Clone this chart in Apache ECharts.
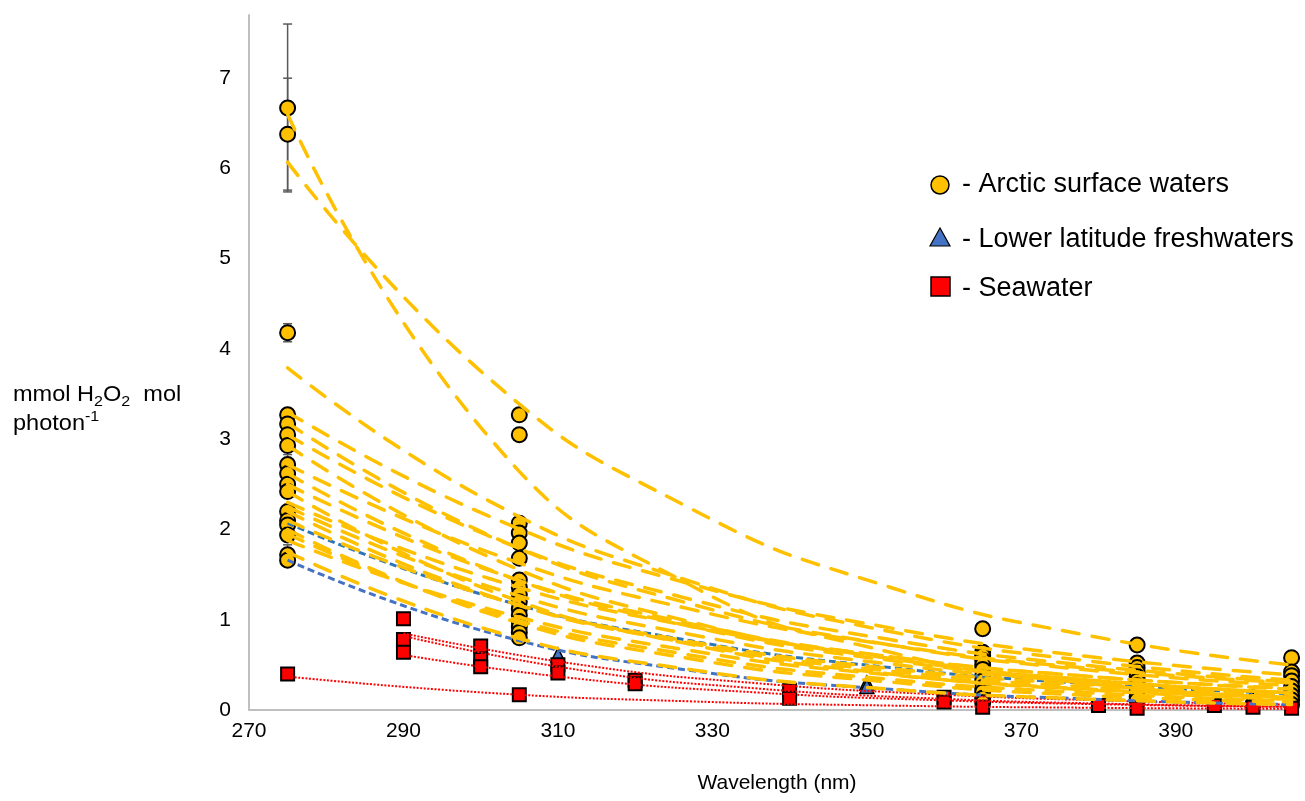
<!DOCTYPE html>
<html>
<head>
<meta charset="utf-8">
<script src="https://cdn.jsdelivr.net/npm/echarts@6/dist/echarts.min.js"></script>
<style>html,body{margin:0;padding:0;background:#fff}#c{width:1305px;height:801px}</style>
</head>
<body>
<div id="c"></div>
<script>
// ---- data ----
const xTicks = [270, 290, 310, 330, 350, 370, 390];
const yTicks = [0, 1, 2, 3, 4, 5, 6, 7];

// Arctic surface waters: measured points at each wavelength
const arctic275 = [6.67, 6.38, 4.18, 3.27, 3.17, 3.05, 2.93, 2.72, 2.62, 2.50, 2.42, 2.20, 2.10, 2.05, 1.94, 1.72, 1.66];
const arctic305 = [3.27, 3.05, 2.07, 1.96, 1.85, 1.68, 1.44, 1.36, 1.28, 1.20, 1.12, 1.05, 0.98, 0.92, 0.86, 0.80];
const arctic365 = [0.90, 0.64, 0.60, 0.55, 0.50, 0.45, 0.38, 0.32, 0.25, 0.20, 0.13, 0.08];
const arctic385 = [0.72, 0.52, 0.47, 0.42, 0.37, 0.32, 0.27, 0.21, 0.15, 0.11];
const arctic405 = [0.58, 0.42, 0.38, 0.32, 0.26, 0.21, 0.16, 0.11, 0.06];

// error bars (wavelength, low, high)
const errWl   = [275, 275, 275, 275, 275];
const errLow  = [5.74, 5.76, 4.08, 2.62, 1.62];
const errHigh = [7.60, 7.00, 4.28, 2.83, 1.83];

// dashed fitted curves: values at evenly spaced wavelengths
const fitWl = [275, 301, 327, 353, 379, 405];
const arcticFits = [
  [6.07, 3.68, 2.24, 1.36, 0.82, 0.50],
  [6.60, 3.03, 1.39, 0.64, 0.29, 0.14],
  [3.79, 2.32, 1.43, 0.87, 0.54, 0.33],
  [3.30, 2.15, 1.40, 0.91, 0.59, 0.39],
  [3.18, 1.94, 1.18, 0.72, 0.44, 0.27],
  [3.05, 1.93, 1.23, 0.78, 0.49, 0.31],
  [2.93, 1.70, 0.98, 0.57, 0.33, 0.19],
  [2.72, 1.75, 1.12, 0.72, 0.46, 0.30],
  [2.62, 1.56, 0.93, 0.55, 0.33, 0.19],
  [2.50, 1.55, 0.96, 0.59, 0.37, 0.23],
  [2.42, 1.33, 0.73, 0.40, 0.22, 0.12],
  [2.30, 1.46, 0.93, 0.59, 0.37, 0.24],
  [2.25, 1.37, 0.84, 0.51, 0.31, 0.19],
  [2.20, 1.27, 0.74, 0.43, 0.25, 0.14],
  [2.10, 1.26, 0.76, 0.46, 0.28, 0.17],
  [2.00, 1.07, 0.57, 0.31, 0.16, 0.09],
  [1.95, 1.09, 0.61, 0.34, 0.19, 0.10],
  [1.88, 1.12, 0.66, 0.39, 0.23, 0.14],
  [1.75, 0.89, 0.45, 0.23, 0.12, 0.06]
];

// Lower latitude freshwaters
const freshWl  = [310, 350, 400, 350, 400];
const freshVal = [0.61, 0.30, 0.17, 0.26, 0.11];
const freshFitUpper = [2.07, 1.26, 0.77, 0.47, 0.29, 0.18];
const freshFitLower = [1.66, 0.86, 0.44, 0.23, 0.12, 0.06];

// Seawater
const seaWl  = [275, 290, 290, 290, 300, 300, 300, 305, 310, 310, 320, 320, 340, 340, 360, 360, 365, 380, 385, 395, 400, 405];
const seaVal = [0.40, 1.01, 0.78, 0.64, 0.71, 0.56, 0.48, 0.17, 0.50, 0.41, 0.33, 0.29, 0.22, 0.13, 0.14, 0.09, 0.03, 0.05, 0.02, 0.05, 0.03, 0.02];
const seaFitA   = [0.37, 0.19, 0.096, 0.049, 0.025, 0.013];
const seaFitWlB = [290, 313, 336, 359, 382, 405];
const seaFitB1  = [0.85, 0.50, 0.295, 0.174, 0.102, 0.060];
const seaFitB2  = [0.82, 0.44, 0.237, 0.127, 0.068, 0.037];
const seaFitB3  = [0.61, 0.343, 0.193, 0.109, 0.061, 0.034];

// ---- chart ----
const FONT = "'Liberation Sans', Arial, sans-serif";
const chart = echarts.init(document.getElementById('c'), null, {renderer: 'canvas'});

const pairs = (xs, ys) => xs.map((x, i) => [x, ys[i]]);
const arcticPts = [].concat(
  arctic275.map(v => [275, v]), arctic305.map(v => [305, v]),
  arctic365.map(v => [365, v]), arctic385.map(v => [385, v]), arctic405.map(v => [405, v]));

const series = [];
series.push({
  type: 'custom', z: 1, silent: true,
  encode: {x: 0, y: [1, 2]},
  data: errWl.map((w, i) => [w, errLow[i], errHigh[i]]),
  renderItem: (params, api) => {
    const a = api.coord([api.value(0), api.value(1)]);
    const b = api.coord([api.value(0), api.value(2)]);
    const st = {stroke: '#595959', lineWidth: 1.5};
    const c = 4.5;
    return {type: 'group', children: [
      {type: 'line', shape: {x1: a[0], y1: a[1], x2: b[0], y2: b[1]}, style: st},
      {type: 'line', shape: {x1: a[0] - c, y1: a[1], x2: a[0] + c, y2: a[1]}, style: st},
      {type: 'line', shape: {x1: b[0] - c, y1: b[1], x2: b[0] + c, y2: b[1]}, style: st}
    ]};
  }
});
series.push({type: 'scatter', z: 2, symbol: 'triangle', symbolSize: 14, data: pairs(freshWl, freshVal),
  itemStyle: {color: '#4472C4', borderColor: '#000', borderWidth: 1.5, opacity: 1}});
series.push({type: 'scatter', z: 2, symbol: 'circle', symbolSize: 15, data: arcticPts,
  itemStyle: {color: '#FFC000', borderColor: '#000', borderWidth: 2, opacity: 1}});
series.push({type: 'scatter', z: 2, symbol: 'rect', symbolSize: 13, data: pairs(seaWl, seaVal),
  itemStyle: {color: '#FF0000', borderColor: '#000', borderWidth: 2, opacity: 1}});

const redLine = {type: 'line', z: 3, smooth: true, symbol: 'none', silent: true,
  lineStyle: {color: '#FF0000', width: 2, type: [2, 1.6]}};
series.push(Object.assign({}, redLine, {data: pairs(fitWl, seaFitA)}));
series.push(Object.assign({}, redLine, {data: pairs(seaFitWlB, seaFitB1)}));
series.push(Object.assign({}, redLine, {data: pairs(seaFitWlB, seaFitB2)}));
series.push(Object.assign({}, redLine, {data: pairs(seaFitWlB, seaFitB3)}));

series.push({type: 'line', z: 4, smooth: true, symbol: 'none', silent: true,
  data: pairs(fitWl, freshFitUpper), lineStyle: {color: '#2E75B6', width: 3, type: [7, 4]}});
series.push({type: 'line', z: 4, smooth: true, symbol: 'none', silent: true,
  data: pairs(fitWl, freshFitLower), lineStyle: {color: '#4472C4', width: 3, type: [7, 4]}});

arcticFits.forEach(f => series.push({type: 'line', z: 5, smooth: true, symbol: 'none', silent: true,
  data: pairs(fitWl, f), lineStyle: {color: '#FFC000', width: 3.5, type: [17, 13], cap: 'round'}}));

const legendItems = [
  {y: 185, text: '- Arctic surface waters'},
  {y: 240, text: '- Lower latitude freshwaters'},
  {y: 289, text: '- Seawater'}
];

chart.setOption({
  animation: false,
  backgroundColor: '#fff',
  grid: {left: 249, right: 8, top: 15, bottom: 91, containLabel: false},
  xAxis: {
    type: 'value', min: 270, max: 405.7, interval: 20,
    axisLine: {show: true, lineStyle: {color: '#BFBFBF', width: 2}},
    axisTick: {show: false}, splitLine: {show: false},
    axisLabel: {fontFamily: FONT, fontSize: 21, color: '#000', margin: 11,
      formatter: v => xTicks.indexOf(v) >= 0 ? String(v) : ''}
  },
  yAxis: {
    type: 'value', min: 0, max: 7.7, interval: 1,
    axisLine: {show: true, lineStyle: {color: '#BFBFBF', width: 2}},
    axisTick: {show: false}, splitLine: {show: false},
    axisLabel: {fontFamily: FONT, fontSize: 21, color: '#000', margin: 18,
      formatter: v => yTicks.indexOf(v) >= 0 ? String(v) : ''}
  },
  series: series,
  graphic: [
    {type: 'text', x: 777, y: 783, style: {text: 'Wavelength (nm)', fontFamily: FONT, fontSize: 21, fill: '#000', align: 'center', verticalAlign: 'middle'}},
    {type: 'text', x: 13, y: 380, scaleX: 1.07, originX: 0, originY: 0, style: {
      text: '{n|mmol H}{sub|2}{n|O}{sub|2}{n|  mol}\n{n|photon}{sup|-1}',
      fontFamily: FONT, fill: '#000', verticalAlign: 'top',
      rich: {
        n: {fontFamily: FONT, fontSize: 22, lineHeight: 29, fill: '#000'},
        sub: {fontFamily: FONT, fontSize: 15, lineHeight: 29, verticalAlign: 'bottom', fill: '#000'},
        sup: {fontFamily: FONT, fontSize: 15, lineHeight: 29, verticalAlign: 'top', fill: '#000'}
      }}},
    {type: 'circle', shape: {cx: 940, cy: 185, r: 9}, style: {fill: '#FFC000', stroke: '#000', lineWidth: 1.5}},
    {type: 'polygon', shape: {points: [[940, 228], [930, 246], [950, 246]]}, style: {fill: '#4472C4', stroke: '#000', lineWidth: 1.2}},
    {type: 'rect', shape: {x: 931, y: 277, width: 19, height: 19}, style: {fill: '#FF0000', stroke: '#000', lineWidth: 1.5}},
  ].concat(legendItems.map(it => ({type: 'text', x: 962, y: it.y, style: {
    text: it.text, fontFamily: FONT, fontSize: 27, fill: '#000', align: 'left', verticalAlign: 'middle'}})))
});
</script>
</body>
</html>
